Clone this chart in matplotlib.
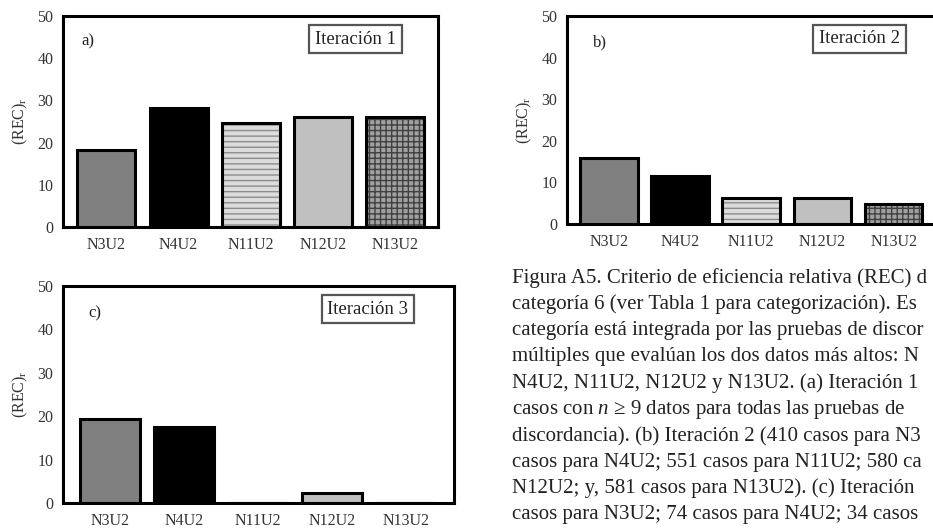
import matplotlib
matplotlib.use("Agg")
import matplotlib.pyplot as plt
import numpy as np

plt.rcParams['font.family'] = ['Liberation Serif', 'DejaVu Serif']
plt.rcParams['mathtext.fontset'] = 'custom'
plt.rcParams['mathtext.rm'] = 'Liberation Serif'
plt.rcParams['mathtext.it'] = 'Liberation Serif:italic'
plt.rcParams['hatch.linewidth'] = 1.0

categories = ["N3U2", "N4U2", "N11U2", "N12U2", "N13U2"]
rec_iter1 = [18.3, 28.3, 24.6, 26.0, 26.0]
rec_iter2 = [15.8, 11.6, 6.2, 6.2, 4.7]
rec_iter3 = [19.3, 17.4, 0.0, 2.2, 0.0]
yticks = [0, 10, 20, 30, 40, 50]

faces = ['#808080', '#000000', '#dcdcdc', '#c0c0c0', '#a0a0a0']
hatches = [None, None, '---', None, '+++']
hatch_cols = [None, None, '#8c8c8c', None, '#404040']

# caption text as visible in the (cropped) reference
caption = [
    "Figura A5. Criterio de eficiencia relativa (REC) d",
    "categoría 6 (ver Tabla 1 para categorización). Es",
    "categoría está integrada por las pruebas de discor",
    "múltiples que evalúan los dos datos más altos: N",
    "N4U2, N11U2, N12U2 y N13U2. (a) Iteración 1",
    "casos con $n$ ≥ 9 datos para todas las pruebas de",
    "discordancia). (b) Iteración 2 (410 casos para N3",
    "casos para N4U2; 551 casos para N11U2; 580 ca",
    "N12U2; y, 581 casos para N13U2). (c) Iteración",
    "casos para N3U2; 74 casos para N4U2; 34 casos",
]

W, H = 933, 528
fig = plt.figure(figsize=(W / 100, H / 100), dpi=100)


def px_axes(l, t, r, b):
    return fig.add_axes([l / W, 1 - b / H, (r - l) / W, (b - t) / H])


def panel(ax, vals, xlim, width, letter, label, lx, ly, bx, by):
    x = np.arange(len(categories))
    for i in range(len(categories)):
        if hatches[i]:
            ax.bar(x[i], vals[i], width=width, color=faces[i], hatch=hatches[i],
                   edgecolor=hatch_cols[i], linewidth=0, zorder=2)
            ax.bar(x[i], vals[i], width=width, fill=False, edgecolor='black',
                   linewidth=2.2, zorder=3)
        else:
            ax.bar(x[i], vals[i], width=width, color=faces[i], edgecolor='black',
                   linewidth=2.2, zorder=3)
    ax.set_xlim(*xlim)
    ax.set_ylim(0, 50)
    ax.set_yticks(yticks)
    ax.set_xticks(x)
    ax.set_xticklabels(categories)
    ax.tick_params(length=0, labelsize=11.5, colors='#333333', pad=7)
    for s in ax.spines.values():
        s.set_linewidth(2.2)
    ax.set_ylabel('(REC)$_\\mathregular{r}$', fontsize=11.5, color='#333333', labelpad=5)
    ax.text(lx, ly, letter, transform=ax.transAxes, fontsize=12, ha='left', va='center',
            color='#222222')
    ax.text(bx, by, label, transform=ax.transAxes, fontsize=13.5, ha='center', va='center',
            color='#222222',
            bbox=dict(boxstyle='square,pad=0.3', fc='white', ec='#555555', lw=1.6))


ax_a = px_axes(63, 16, 438, 227)
panel(ax_a, rec_iter1, (-0.6, 4.59), 0.8, 'a)', 'Iteración 1', 0.05, 0.88, 0.78, 0.89)

ax_b = px_axes(567, 16, 942, 224)
panel(ax_b, rec_iter2, (-0.59, 4.68), 0.81, 'b)', 'Iteración 2', 0.07, 0.875, 0.78, 0.89)

ax_c = px_axes(63, 286, 454, 503)
panel(ax_c, rec_iter3, (-0.635, 4.65), 0.82, 'c)', 'Iteración 3', 0.065, 0.876, 0.78, 0.894)

for i, line in enumerate(caption):
    y = 278 + i * 26.3
    fig.text(512 / W, 1 - y / H, line, fontsize=15.0, ha='left', va='center', color='#222222')

fig.savefig('out.png', dpi=100)
